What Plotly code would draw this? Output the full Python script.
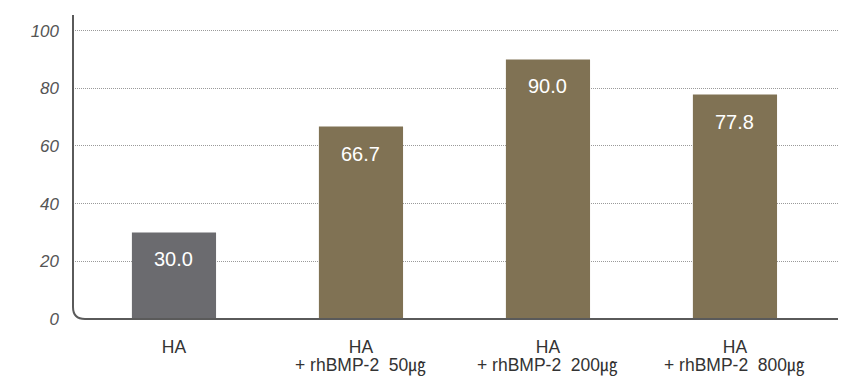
import plotly.graph_objects as go

# Bone formation rate by treatment group (%)
groups = ["HA", "HA + rhBMP-2 50㎍", "HA + rhBMP-2 200㎍", "HA + rhBMP-2 800㎍"]
first_line = ["HA", "HA", "HA", "HA"]
second_line = ["", "+ rhBMP-2  50㎍", "+ rhBMP-2  200㎍", "+ rhBMP-2  800㎍"]
values = [30.0, 66.7, 90.0, 77.8]
bar_colors = ["#6b6b6f", "#807254", "#807254", "#807254"]

y_ticks = [0, 20, 40, 60, 80, 100]

xpos = list(range(len(groups)))

fig = go.Figure()
fig.add_trace(go.Bar(
    x=xpos,
    y=values,
    width=0.45,
    marker=dict(color=bar_colors, line=dict(width=0)),
    hovertext=groups,
    showlegend=False,
))

# Value labels inside the top of each bar
for xi, v in zip(xpos, values):
    fig.add_annotation(
        x=xi, y=v, xref="x", yref="y",
        text=f"{v:.1f}", showarrow=False,
        yshift=-27,
        font=dict(family="Liberation Sans, Arial, sans-serif", size=20, color="white"),
    )

# Second line of the category labels
for xi, t in zip(xpos, second_line):
    if t:
        fig.add_annotation(
            x=xi, y=0, xref="x", yref="paper",
            text=t, showarrow=False,
            yshift=-59,
            font=dict(family="Liberation Sans, Noto Sans CJK KR, sans-serif", size=17.5, color="#333333"),
        )

# L-shaped axis with a rounded corner
rx = 12 / 765
ry = 12 / 304
fig.add_shape(
    type="path", xref="paper", yref="paper",
    path=f"M 0,1 L 0,{ry} Q 0,0 {rx},0 L 1,0",
    line=dict(color="#5a5a5a", width=2),
    layer="above",
)

fig.update_layout(
    width=853, height=382,
    margin=dict(l=73, r=15, t=15, b=63),
    paper_bgcolor="white", plot_bgcolor="white",
    xaxis=dict(
        range=[-0.54, 3.551],
        tickvals=xpos, ticktext=first_line,
        showgrid=False, zeroline=False, showline=False,
        ticks="", ticklabelstandoff=15,
        tickfont=dict(family="Liberation Sans, Arial, sans-serif", size=17.5, color="#333333"),
    ),
    yaxis=dict(
        range=[0, 105.4],
        tickvals=y_ticks,
        showgrid=True, gridcolor="#9a9a9a", gridwidth=1, griddash="1px,1px",
        zeroline=False, showline=False,
        ticks="", ticklabelstandoff=13,
        tickfont=dict(family="Liberation Sans, Arial, sans-serif", size=17, color="#555555", style="italic"),
    ),
)

fig.write_html("out.html")
